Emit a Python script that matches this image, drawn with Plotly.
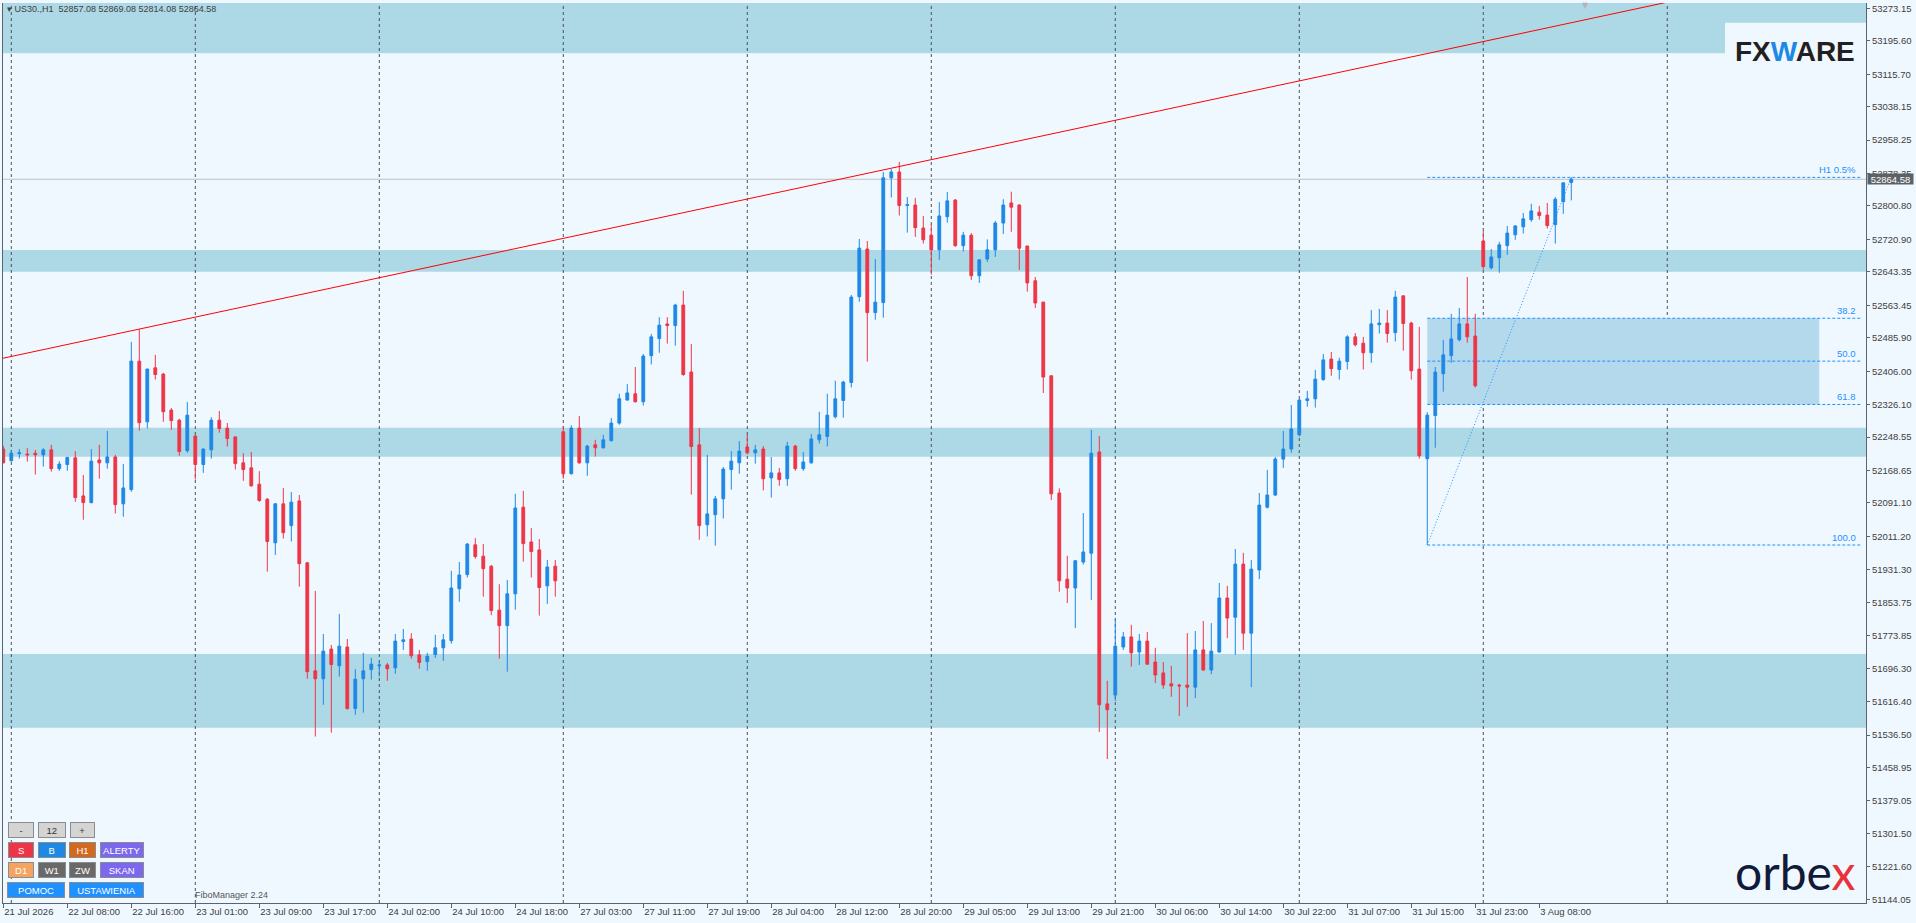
import plotly.graph_objects as go

# ------------------------------
# US30., H1 candles (bar index, weekend gaps removed)
# ------------------------------
bars = list(range(197))

opens = [
    52220, 52192, 52209, 52208, 52210, 52206, 52218, 52173, 52183, 52199,
    52108, 52092, 52194, 52187, 52201, 52089, 52123, 52430, 52285, 52414,
    52399, 52313, 52289, 52216, 52251, 52183, 52218, 52289, 52270, 52249,
    52187, 52175, 52136, 52100, 51996, 52089, 52037, 52096, 51948, 51690,
    51671, 51742, 51702, 51747, 51600, 51671, 51693, 51702, 51704, 51697,
    51760, 51766, 51728, 51712, 51729, 51745, 51762, 51886, 51920, 51991,
    51964, 51940, 51835, 51798, 51874, 52081, 51998, 51979, 51893, 51940,
    52261, 52161, 52270, 52187, 52230, 52223, 52240, 52282, 52337, 52352,
    52333, 52443, 52484, 52519, 52515, 52564, 52404, 52230, 52039, 52063,
    52101, 52171, 52187, 52225, 52211, 52220, 52151, 52163, 52149, 52227,
    52173, 52187, 52242, 52250, 52297, 52336, 52379, 52584, 52698, 52546,
    52570, 52868, 52882, 52802, 52803, 52748, 52731, 52696, 52775, 52815,
    52706, 52731, 52634, 52674, 52696, 52760, 52808, 52803, 52705, 52622,
    52571, 52395, 52115, 51909, 51888, 51950, 51971, 52213, 51611, 51632,
    51747, 51771, 51735, 51761, 51711, 51685, 51659, 51656, 51656, 51651,
    51740, 51692, 51735, 51864, 51818, 51945, 51780, 51931, 52081, 52110,
    52196, 52220, 52254, 52336, 52340, 52386, 52435, 52410, 52429, 52488,
    52473, 52450, 52517, 52521, 52498, 52586, 52521, 52411, 52197, 52300,
    52400, 52443, 52481, 52519, 52490, 52717, 52653, 52677, 52706, 52732,
    52751, 52768, 52786, 52779, 52756, 52811, 52857.08,
]

highs = [
    52228, 52216, 52220, 52222, 52218, 52222, 52230, 52191, 52201, 52215,
    52158, 52220, 52230, 52263, 52206, 52184, 52476, 52506, 52412, 52445,
    52402, 52318, 52292, 52332, 52253, 52221, 52296, 52311, 52282, 52250,
    52210, 52213, 52167, 52103, 52091, 52127, 52117, 52110, 51950, 51881,
    51778, 51752, 51826, 51766, 51694, 51733, 51721, 51713, 51709, 51778,
    51790, 51780, 51740, 51733, 51776, 51778, 51929, 51950, 51995, 52007,
    51993, 51943, 51897, 51907, 52113, 52120, 52031, 52005, 51955, 51955,
    52275, 52277, 52299, 52230, 52242, 52254, 52294, 52352, 52375, 52416,
    52447, 52495, 52535, 52535, 52567, 52598, 52471, 52270, 52206, 52108,
    52177, 52215, 52239, 52254, 52230, 52227, 52201, 52175, 52237, 52230,
    52213, 52256, 52309, 52352, 52383, 52383, 52588, 52722, 52717, 52674,
    52882, 52889, 52906, 52822, 52820, 52777, 52758, 52810, 52834, 52817,
    52739, 52736, 52673, 52721, 52765, 52817, 52835, 52805, 52706, 52631,
    52572, 52396, 52126, 51965, 51954, 52067, 52266, 52251, 51666, 51814,
    51783, 51800, 51778, 51783, 51745, 51711, 51702, 51659, 51780, 51785,
    51809, 51804, 51900, 51893, 51981, 51972, 51955, 52115, 52170, 52201,
    52263, 52325, 52340, 52359, 52409, 52447, 52452, 52438, 52492, 52497,
    52488, 52552, 52555, 52552, 52598, 52587, 52524, 52512, 52308, 52416,
    52481, 52543, 52557, 52631, 52543, 52741, 52698, 52715, 52753, 52755,
    52784, 52806, 52801, 52808, 52822, 52857, 52869.08,
]

lows = [
    52186, 52190, 52197, 52190, 52159, 52178, 52166, 52168, 52168, 52094,
    52051, 52090, 52149, 52173, 52066, 52058, 52118, 52264, 52269, 52386,
    52285, 52266, 52204, 52211, 52147, 52163, 52197, 52259, 52226, 52171,
    52144, 52130, 52094, 51927, 51967, 52006, 51999, 51891, 51671, 51533,
    51609, 51542, 51676, 51597, 51585, 51590, 51669, 51676, 51666, 51683,
    51740, 51719, 51695, 51690, 51721, 51714, 51755, 51855, 51913, 51958,
    51867, 51823, 51719, 51688, 51836, 51951, 51913, 51822, 51850, 51867,
    52149, 52159, 52185, 52156, 52202, 52221, 52238, 52278, 52336, 52331,
    52324, 52422, 52450, 52472, 52467, 52395, 52111, 52003, 52011, 51989,
    52054, 52123, 52161, 52207, 52185, 52121, 52104, 52132, 52132, 52168,
    52168, 52185, 52233, 52226, 52293, 52295, 52367, 52572, 52429, 52529,
    52534, 52821, 52778, 52737, 52727, 52711, 52637, 52672, 52761, 52703,
    52692, 52624, 52617, 52667, 52679, 52734, 52739, 52648, 52596, 52557,
    52354, 52098, 51879, 51852, 51792, 51944, 51859, 51544, 51479, 51618,
    51740, 51700, 51704, 51704, 51661, 51647, 51628, 51582, 51604, 51625,
    51690, 51682, 51733, 51768, 51728, 51740, 51651, 51909, 52078, 52108,
    52175, 52211, 52250, 52321, 52319, 52383, 52395, 52386, 52410, 52465,
    52410, 52426, 52496, 52474, 52477, 52455, 52386, 52197, 51990.6, 52223,
    52357, 52426, 52477, 52474, 52367, 52649, 52649, 52641, 52684, 52720,
    52735, 52763, 52768, 52747, 52711, 52782, 52814.08,
]

closes = [
    52187, 52210, 52211, 52206, 52206, 52218, 52173, 52184, 52200, 52104,
    52092, 52191, 52187, 52201, 52087, 52127, 52430, 52283, 52411, 52398,
    52309, 52288, 52214, 52301, 52183, 52220, 52289, 52269, 52245, 52185,
    52171, 52132, 52097, 51999, 52089, 52020, 52093, 51946, 51688, 51671,
    51737, 51705, 51749, 51600, 51670, 51690, 51706, 51704, 51695, 51761,
    51764, 51726, 51710, 51725, 51745, 51764, 51888, 51919, 51993, 51963,
    51934, 51834, 51798, 51874, 52079, 51994, 51975, 51889, 51938, 51905,
    52161, 52270, 52187, 52227, 52223, 52242, 52282, 52340, 52354, 52333,
    52442, 52488, 52516, 52515, 52564, 52398, 52226, 52037, 52065, 52101,
    52172, 52191, 52215, 52211, 52218, 52149, 52163, 52147, 52227, 52173,
    52189, 52244, 52254, 52301, 52340, 52380, 52583, 52700, 52546, 52571,
    52868, 52882, 52802, 52804, 52749, 52720, 52696, 52777, 52813, 52706,
    52731, 52634, 52672, 52696, 52760, 52803, 52798, 52700, 52617, 52569,
    52392, 52113, 51905, 51888, 51953, 51974, 52210, 51609, 51597, 51749,
    51771, 51733, 51761, 51706, 51680, 51656, 51654, 51654, 51651, 51740,
    51692, 51737, 51864, 51816, 51945, 51780, 51933, 52086, 52110, 52196,
    52220, 52268, 52337, 52340, 52387, 52433, 52412, 52430, 52488, 52469,
    52450, 52519, 52521, 52496, 52583, 52520, 52407, 52204, 52301, 52404,
    52445, 52483, 52519, 52488, 52371, 52656, 52679, 52708, 52736, 52753,
    52770, 52789, 52778, 52754, 52817, 52856, 52864.58,
]

last_price = 52864.58

# time axis labels (one every 8 bars)
tick_bars = list(range(0, 193, 8))
tick_text = [
    "21 Jul 2026", "22 Jul 08:00", "22 Jul 16:00", "23 Jul 01:00", "23 Jul 09:00",
    "23 Jul 17:00", "24 Jul 02:00", "24 Jul 10:00", "24 Jul 18:00", "27 Jul 03:00",
    "27 Jul 11:00", "27 Jul 19:00", "28 Jul 04:00", "28 Jul 12:00", "28 Jul 20:00",
    "29 Jul 05:00", "29 Jul 13:00", "29 Jul 21:00", "30 Jul 06:00", "30 Jul 14:00",
    "30 Jul 22:00", "31 Jul 07:00", "31 Jul 15:00", "31 Jul 23:00", "3 Aug 08:00",
]

# price scale labels
price_ticks = [
    53273.15, 53195.60, 53115.70, 53038.15, 52958.25, 52878.35, 52800.80,
    52720.90, 52643.35, 52563.45, 52485.90, 52406.00, 52326.10, 52248.55,
    52168.65, 52091.10, 52011.20, 51931.30, 51853.75, 51773.85, 51696.30,
    51616.40, 51536.50, 51458.95, 51379.05, 51301.50, 51221.60, 51144.05,
]

# vertical period separators
grid_bars = [1, 24, 47, 70, 93, 116, 139, 162, 185, 208]

# supply / demand zones
zone_lows = [53165.6, 52643.7, 52201.6, 51554.0]
zone_highs = [53300.0, 52695.6, 52270.9, 51730.2]

# rising resistance line (two anchor points)
trend_bars = [-0.075, 207.7]
trend_prices = [52436.8, 53286.5]

# fibo retracement (FiboManager)
fib_from_bar = 178
fib_to_bar = 196
fib_labels = ["H1 0.5%", "38.2", "50.0", "61.8", "100.0"]
fib_prices = [52869.08, 52532.5, 52430.0, 52326.5, 51990.6]

# ------------------------------
# Styling
# ------------------------------
W, H = 1916, 923
PL, PR, PT, PB = 3, 1866, 3, 903
BG = "#F0F8FF"
BAND = "#ADD8E6"
FIBBOX = "#B4D9ED"
BLUE = "#1E88E5"
RED = "#EE3547"
FIB = "#1E90FF"
GRID = "#46505A"
AXIS = "#5A6470"
TXT = "#404040"
FONT = "Liberation Sans"


def to_paper(x_px, y_px):
    return (x_px - PL) / (PR - PL), (PB - y_px) / (PB - PT)


x_right = (1862 - PL - 0.3) / 8.0      # right end of fibo lines in bar units
x_label = (1858 - PL - 0.3) / 8.0

fig = go.Figure()

fig.add_trace(go.Candlestick(
    x=bars, open=opens, high=highs, low=lows, close=closes,
    increasing=dict(line=dict(color=BLUE, width=1), fillcolor=BLUE),
    decreasing=dict(line=dict(color=RED, width=1), fillcolor=RED),
    whiskerwidth=0, hoverinfo="skip", showlegend=False,
))

fig.add_trace(go.Scatter(
    x=trend_bars, y=trend_prices, mode="lines",
    line=dict(color="#FF0000", width=1), hoverinfo="skip", showlegend=False,
))

fig.add_trace(go.Scatter(
    x=[fib_from_bar, fib_to_bar], y=[fib_prices[-1], fib_prices[0]], mode="lines",
    line=dict(color=FIB, width=1, dash="1px,2px"), hoverinfo="skip", showlegend=False,
))

# zones
for lo, hi in zip(zone_lows, zone_highs):
    fig.add_shape(type="rect", xref="paper", x0=0, x1=1, yref="y", y0=lo, y1=hi,
                  fillcolor=BAND, line_width=0, layer="below")

# logo backdrop over the top zone
lx0, ly0 = to_paper(1725, 22.7)
lx1, ly1 = to_paper(1866, 70)
fig.add_shape(type="rect", xref="paper", yref="paper", x0=lx0, x1=lx1, y0=ly1, y1=ly0,
              fillcolor=BG, line_width=0, layer="below")

# fibo box between 38.2 and 61.8
fig.add_shape(type="rect", xref="x", x0=fib_from_bar, x1=227, yref="y",
              y0=fib_prices[3], y1=fib_prices[1],
              fillcolor=FIBBOX, line_width=0, layer="below")

# period separators
for b in grid_bars:
    fig.add_shape(type="line", xref="x", x0=b, x1=b, yref="paper", y0=0, y1=1,
                  line=dict(color=GRID, width=1, dash="3px,3px"), layer="between")

# bid line
fig.add_shape(type="line", xref="paper", x0=0, x1=1, yref="y", y0=last_price, y1=last_price,
              line=dict(color="#C0C0C0", width=1), layer="between")

# fibo levels
for lab, p in zip(fib_labels, fib_prices):
    fig.add_shape(type="line", xref="x", x0=fib_from_bar, x1=x_right, yref="y", y0=p, y1=p,
                  line=dict(color=FIB, width=1, dash="3px,2px"), layer="between")
    fig.add_annotation(x=x_label, y=p, xref="x", yref="y", text=lab, showarrow=False,
                       xanchor="right", yanchor="bottom", yshift=0,
                       font=dict(family=FONT, size=9.5, color=FIB))

# current price box on the scale
fig.add_annotation(x=1, y=last_price, xref="paper", yref="y", text=f"{last_price:.2f}",
                   showarrow=False, xanchor="left", yanchor="middle", xshift=1,
                   bgcolor="#5C6166", width=45, height=10, borderpad=0,
                   font=dict(family=FONT, size=9.5, color="white"))

# header
hx, hy = to_paper(5, 9)
fig.add_annotation(x=hx, y=hy, xref="paper", yref="paper",
                   text="▾ US30.,H1  52857.08 52869.08 52814.08 52864.58",
                   showarrow=False, xanchor="left", yanchor="middle",
                   font=dict(family=FONT, size=9, color=TXT))

sx, sy = to_paper(1585, 5)
fig.add_annotation(x=sx, y=sy, xref="paper", yref="paper", text="▼", showarrow=False,
                   xanchor="center", yanchor="middle",
                   font=dict(family="DejaVu Sans", size=8, color="#B4B4B4"))

# logos
fx, fy = to_paper(1795, 51)
fig.add_annotation(x=fx, y=fy, xref="paper", yref="paper",
                   text='FX<span style="color:#1E88E5">W</span>ARE', showarrow=False,
                   xanchor="center", yanchor="middle",
                   font=dict(family=FONT, size=28, color="#231F20", weight="bold"))

ox, oy = to_paper(1795, 871)
fig.add_annotation(x=ox, y=oy, xref="paper", yref="paper",
                   text='orbe<span style="color:#E8323C">x</span>', showarrow=False,
                   xanchor="center", yanchor="middle",
                   font=dict(family="Lato", size=48, color="#101B3A"))

# panel buttons
buttons = [
    ("-", 7.3, 33.7, 822, 838, "#D4D4D4", "#333333"),
    ("12", 38, 65.5, 822, 838, "#D4D4D4", "#333333"),
    ("+", 70.4, 95, 822, 838, "#D4D4D4", "#333333"),
    ("S", 7.3, 33.7, 842.3, 858.3, "#EE3547", "white"),
    ("B", 38, 65.5, 842.3, 858.3, "#1E88E5", "white"),
    ("H1", 69, 96, 842.3, 858.3, "#D2691E", "white"),
    ("ALERTY", 100.4, 144, 842.3, 858.3, "#7B68EE", "white"),
    ("D1", 7.3, 33.7, 862.3, 878.3, "#F4A460", "white"),
    ("W1", 38, 65.5, 862.3, 878.3, "#696969", "white"),
    ("ZW", 69, 96, 862.3, 878.3, "#696969", "white"),
    ("SKAN", 100.4, 144, 862.3, 878.3, "#7B68EE", "white"),
    ("POMOC", 7.3, 65.5, 882.3, 898.3, "#1E90FF", "white"),
    ("USTAWIENIA", 69, 144, 882.3, 898.3, "#1E90FF", "white"),
]
for lab, x0, x1, y0, y1, bg, fg in buttons:
    bx, by = to_paper((x0 + x1) / 2, (y0 + y1) / 2)
    fig.add_annotation(x=bx, y=by, xref="paper", yref="paper", text=lab, showarrow=False,
                       xanchor="center", yanchor="middle", bgcolor=bg,
                       bordercolor="#8C8C8C", borderwidth=1, borderpad=0,
                       width=x1 - x0 - 2, height=y1 - y0 - 2,
                       font=dict(family=FONT, size=9.5, color=fg))

tx, ty = to_paper(193, 895)
fig.add_annotation(x=tx, y=ty, xref="paper", yref="paper", text="FiboManager 2.24",
                   showarrow=False, xanchor="left", yanchor="middle",
                   font=dict(family=FONT, size=9, color="#555555"))

fig.update_layout(
    width=W, height=H,
    margin=dict(l=PL, r=W - PR, t=PT, b=H - PB, pad=0),
    paper_bgcolor=BG, plot_bgcolor=BG,
    boxgap=0.5,
    showlegend=False,
    hovermode=False,
    xaxis=dict(
        range=[-0.0375, 232.84], rangeslider=dict(visible=False),
        tickmode="array", tickvals=tick_bars, ticktext=tick_text,
        ticks="outside", ticklen=4, tickcolor=AXIS, ticklabelposition="outside right",
        showline=True, linecolor=AXIS, linewidth=1, showgrid=False, zeroline=False,
        tickfont=dict(family=FONT, size=9.5, color=TXT),
    ),
    yaxis=dict(
        side="right", range=[51135.2, 53285.8],
        tickmode="array", tickvals=price_ticks, ticktext=[f"{v:.2f}" for v in price_ticks],
        ticks="outside", ticklen=3, tickcolor=AXIS,
        showline=True, mirror=True, linecolor=AXIS, linewidth=1,
        showgrid=False, zeroline=False,
        tickfont=dict(family=FONT, size=9.5, color=TXT),
    ),
)

fig.write_html("out.html", config={"displayModeBar": False},
               post_script="document.body.style.margin='0';")
